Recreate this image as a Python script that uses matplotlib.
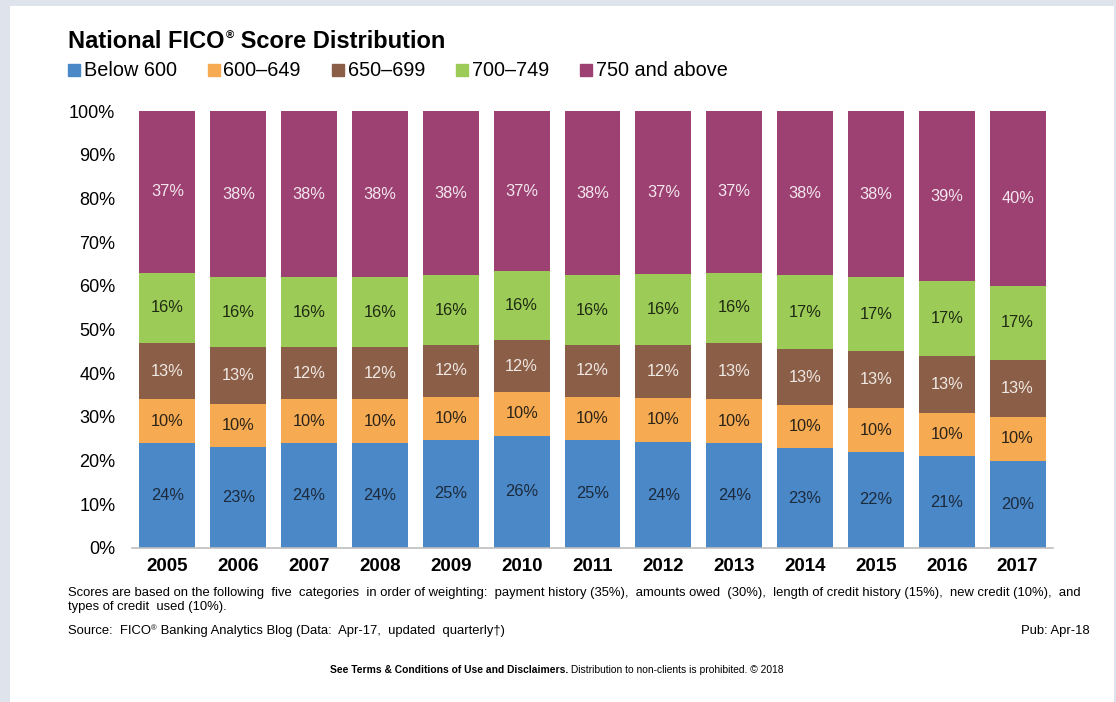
import matplotlib.pyplot as plt
from matplotlib.lines import Line2D
from matplotlib.patches import Rectangle
import numpy as np

plt.rcParams['font.family'] = ['Liberation Sans', 'DejaVu Sans']

# Data (percent of population per score band)
years = ['2005', '2006', '2007', '2008', '2009', '2010', '2011',
         '2012', '2013', '2014', '2015', '2016', '2017']
below_600 = [24, 23, 24, 24, 25, 26, 25, 24, 24, 23, 22, 21, 20]
s600_649 = [10, 10, 10, 10, 10, 10, 10, 10, 10, 10, 10, 10, 10]
s650_699 = [13, 13, 12, 12, 12, 12, 12, 12, 13, 13, 13, 13, 13]
s700_749 = [16, 16, 16, 16, 16, 16, 16, 16, 16, 17, 17, 17, 17]
s750_up = [37, 38, 38, 38, 38, 37, 38, 37, 37, 38, 38, 39, 40]
band_names = ['Below 600', '600\u2013649', '650\u2013699', '700\u2013749', '750 and above']

colors = ['#4a88c8', '#f6aa52', '#8b5f47', '#9dcb57', '#9c4171']
label_colors = ['#1c2a3c', '#2a2318', '#f0e8e4', '#1e2a12', '#f4e6ee']

series = np.array([below_600, s600_649, s650_699, s700_749, s750_up], dtype=float)
# the rounded labels don't always add to 100, so scale each year to fill the bar
shares = series / series.sum(axis=0)

fig = plt.figure(figsize=(11.16, 7.02), dpi=100)
fig.patch.set_facecolor('#dfe4ec')
# white card behind everything
fig.patches.append(Rectangle((10 / 1116, 0), (1114 - 10) / 1116, (702 - 6) / 702,
                             transform=fig.transFigure, facecolor='white',
                             edgecolor='none', zorder=-5))

ax = fig.add_axes([132 / 1116, 1 - 548 / 702, 921 / 1116, 437 / 702])
ax.set_zorder(2)
ax.patch.set_alpha(0)
x = np.arange(len(years))
bottom = np.zeros(len(years))
for k in range(len(band_names)):
    ax.bar(x, shares[k], bottom=bottom, width=0.79, color=colors[k], zorder=2)
    for i in range(len(years)):
        ax.text(x[i], bottom[i] + shares[k][i] / 2, '%d%%' % series[k][i],
                ha='center', va='center', fontsize=11.8, color=label_colors[k], zorder=3)
    bottom += shares[k]

ax.set_xlim(-0.5, len(years) - 0.5)
ax.set_ylim(0, 1)
ax.set_yticks(np.arange(0, 1.01, 0.1))
ax.set_yticklabels(['%d%%' % v for v in range(0, 101, 10)], fontsize=13)
ax.set_xticks(x)
ax.set_xticklabels(years, fontsize=13.5, fontweight='bold')
ax.tick_params(length=0)
ax.tick_params(axis='y', pad=12)
ax.tick_params(axis='x', pad=7.5)
for s in ['top', 'right', 'left']:
    ax.spines[s].set_visible(False)
ax.spines['bottom'].set_color('#bfbfbf')
ax.spines['bottom'].set_linewidth(1.2)

# title with a small raised (R) mark
t1 = fig.text(68 / 1116, 1 - 41 / 702, 'National FICO', fontsize=17,
              fontweight='bold', va='center', ha='left')
t2 = ax.annotate('\u00ae', xy=(1, 0.95), xycoords=t1, xytext=(1, 0),
                 textcoords='offset points', fontsize=8, fontweight='bold',
                 va='top', ha='left', annotation_clip=False)
ax.annotate(' Score Distribution', xy=(1, 0), xycoords=(t2, t1), fontsize=17,
            fontweight='bold', va='bottom', ha='left', annotation_clip=False)

handles = [Line2D([], [], marker='s', linestyle='', color=c, markersize=8) for c in colors]
fig.legend(handles, band_names, loc='center left', bbox_to_anchor=(58 / 1116, 1 - 71 / 702),
           ncol=5, frameon=False, fontsize=14.3, handletextpad=0.1,
           columnspacing=1.45, handlelength=0.8, borderaxespad=0)

# footnotes
fs = 9.4
fig.text(68 / 1116, 1 - 593 / 702,
         'Scores are based on the following  five  categories  in order of weighting:  payment history (35%),  '
         'amounts owed  (30%),  length of credit history (15%),  new credit (10%),  and',
         fontsize=fs, va='center', ha='left')
fig.text(68 / 1116, 1 - 607 / 702, 'types of credit  used (10%).',
         fontsize=fs, va='center', ha='left')
s1 = fig.text(68 / 1116, 1 - 631 / 702, 'Source:  FICO', fontsize=fs, va='center', ha='left')
s2 = ax.annotate('\u00ae', xy=(1, 0.95), xycoords=s1, fontsize=5.5, va='top', ha='left',
                 annotation_clip=False)
ax.annotate(' Banking Analytics Blog (Data:  Apr-17,  updated  quarterly\u2020)', xy=(1, 0),
            xycoords=(s2, s1), fontsize=fs, va='bottom', ha='left', annotation_clip=False)
fig.text(1090 / 1116, 1 - 631 / 702, 'Pub: Apr-18', fontsize=fs, va='center', ha='right')

b1 = fig.text(330 / 1116, 1 - 670 / 702, 'See Terms & Conditions of Use and Disclaimers.',
              fontsize=7.4, fontweight='bold', va='center', ha='left')
ax.annotate(' Distribution to non-clients is prohibited. \u00a9 2018', xy=(1, 0),
            xycoords=b1, fontsize=7.4, va='bottom', ha='left', annotation_clip=False)

fig.savefig('out.png', dpi=100, facecolor=fig.get_facecolor())
